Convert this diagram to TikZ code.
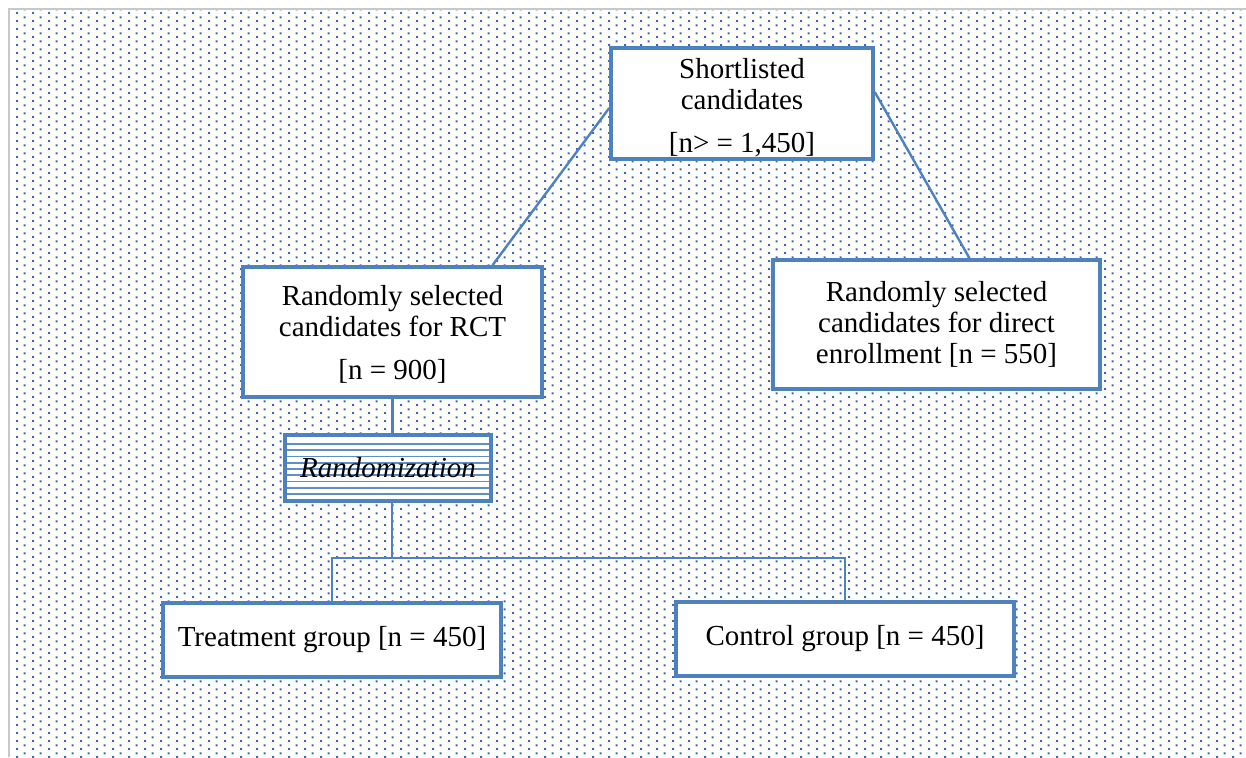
\documentclass[tikz,border=0pt]{standalone}
\usepackage{fontspec}
\setmainfont{Liberation Serif}
\usepackage{tikz}
\usetikzlibrary{patterns}
\definecolor{boxblue}{RGB}{79,129,189}
\definecolor{dotblue}{RGB}{60,105,190}
\definecolor{edgegray}{RGB}{200,200,200}
\pgfdeclarepatternformonly{bgdots}{\pgfpointorigin}{\pgfqpoint{8pt}{4pt}}{\pgfqpoint{8pt}{4pt}}{%
    \pgfpathrectangle{\pgfqpoint{0pt}{0pt}}{\pgfqpoint{1.1pt}{1.1pt}}%
    \pgfpathrectangle{\pgfqpoint{4pt}{2pt}}{\pgfqpoint{1.1pt}{1.1pt}}%
    \pgfusepath{fill}}
\newcommand{\boxfont}{\fontsize{14.5pt}{15.5pt}\selectfont}

\begin{document}
\begin{tikzpicture}[x=0.5pt, y=-0.5pt,
    stagebox/.style={rectangle, draw=boxblue, line width=1.75pt, fill=white,
        inner sep=0pt, align=center, font=\boxfont},
    link/.style={draw=boxblue, line width=1.2pt},
    stripe/.style={draw=boxblue!90, line width=0.9pt}]
    \useasboundingbox (0,0) rectangle (1246,757);
    \fill[pattern=bgdots, pattern color=dotblue] (10,10) rectangle (1246,757);
    \draw[edgegray, line width=1pt] (9,757) -- (9,9) -- (1246,9);

    \node (shortlist) at (742,103.5) [stagebox, minimum width=131pt, minimum height=55.5pt]
        {\rule{0pt}{14pt}Shortlisted\\candidates\\[6pt][n> = 1,450]};
    \node (rct)       at (392.5,332) [stagebox, minimum width=149.5pt, minimum height=65pt]
        {\rule{0pt}{12pt}Randomly selected\\candidates for RCT\\[6pt][n = 900]};
    \node (direct)    at (936.5,324.5) [stagebox, minimum width=163.5pt, minimum height=64.5pt]
        {Randomly selected\\candidates for direct\\enrollment [n = 550]};
    \node (rand)      at (388,468) [stagebox, minimum width=103pt, minimum height=33pt,
        path picture={\foreach \k in {0,...,8}
            \draw[stripe] ([yshift={-4.5pt-3.125pt*\k}]path picture bounding box.north west)
                -- ([yshift={-4.5pt-3.125pt*\k}]path picture bounding box.north east);}]
        {\itshape Randomization};
    \node (treat)     at (332,640) [stagebox, minimum width=169pt, minimum height=37pt]
        {Treatment group [n = 450]};
    \node (ctrl)      at (845,639) [stagebox, minimum width=169pt, minimum height=37pt]
        {Control group [n = 450]};
    \coordinate (split) at (392,558);

    \draw[link] ([yshift=-2.25pt]shortlist.west) -- ([xshift=50pt]rct.north);
    \draw[link] ([yshift=5.75pt]shortlist.east) -- ([xshift=16.5pt]direct.north);
    \draw[link] (rct.south) -- (rct.south |- rand.north);
    \draw[link] (rand.south -| split) -- (split) -| (treat.north);
    \draw[link] (split) -| (ctrl.north);
\end{tikzpicture}
\end{document}
